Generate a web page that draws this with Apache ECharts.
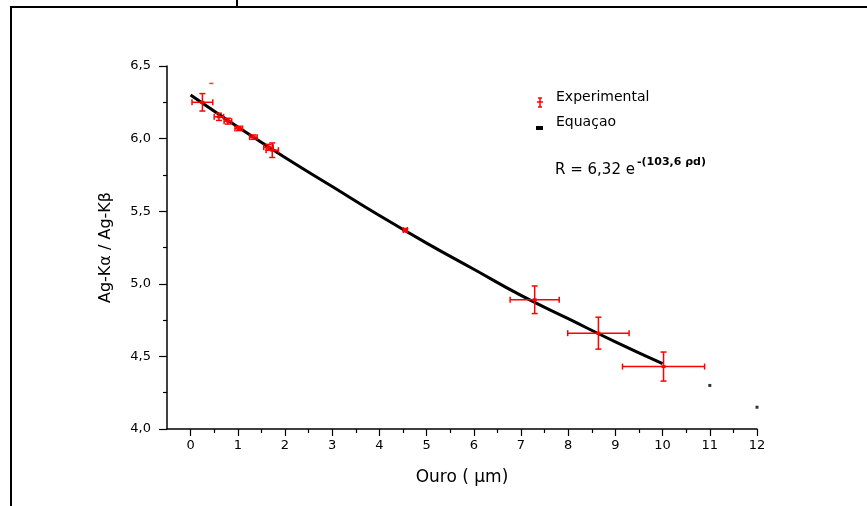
<!DOCTYPE html>
<html>
<head>
<meta charset="utf-8">
<script src="https://cdn.jsdelivr.net/npm/echarts@6/dist/echarts.min.js"></script>
<style>
    html, body { margin: 0; padding: 0; background: #fff; }
    #chart { width: 867px; height: 506px; }
</style>
</head>
<body>
<div id="chart"></div>
<script>
// pontos experimentais (Ouro em um, razao Ka/Kb) com barras de erro
const expX = [0.25, 0.60, 0.79, 1.02, 1.33, 1.65, 1.73, 4.55, 7.29, 8.64, 10.02];
const expY = [6.25, 6.15, 6.12, 6.07, 6.01, 5.94, 5.92, 5.37, 4.89, 4.66, 4.43];
const expXErr = [0.22, 0.10, 0.08, 0.08, 0.08, 0.10, 0.13, 0.04, 0.52, 0.65, 0.87];
const expYErr = [0.06, 0.025, 0.02, 0.015, 0.015, 0.02, 0.05, 0.01, 0.095, 0.11, 0.10];

// curva da equacao
const fitX = [0, 1, 2, 3, 4, 5, 6, 7, 8, 9, 10];
const fitY = [6.30, 6.08, 5.87, 5.67, 5.47, 5.28, 5.10, 4.92, 4.76, 4.60, 4.45];

// pontos soltos da equacao depois de 10
const dotX = [11, 12];
const dotY = [4.30, 4.15];

// traco vermelho solto perto do topo
const strayX = [0.44];
const strayY = [6.38];

const xTicks = [0, 1, 2, 3, 4, 5, 6, 7, 8, 9, 10, 11, 12];
const xMinorTicks = [0.5, 1.5, 2.5, 3.5, 4.5, 5.5, 6.5, 7.5, 8.5, 9.5, 10.5, 11.5];

const font = 'DejaVu Sans, Liberation Sans, Arial, sans-serif';

let chart = echarts.init(document.getElementById('chart'));

let expData = [];
for (let i = 0; i < expX.length; i++) {
    expData.push([expX[i], expY[i], expXErr[i], expYErr[i]]);
}

function renderErrorBar(params, api) {
    let x = api.value(0), y = api.value(1), dx = api.value(2), dy = api.value(3);
    let c = api.coord([x, y]);
    let l = api.coord([x - dx, y]);
    let r = api.coord([x + dx, y]);
    let t = api.coord([x, y + dy]);
    let b = api.coord([x, y - dy]);
    let cap = 3;
    let style = { stroke: '#ff0000', lineWidth: 1.5, fill: null };
    return {
        type: 'group',
        children: [
            { type: 'line', shape: { x1: l[0], y1: c[1], x2: r[0], y2: c[1] }, style: style },
            { type: 'line', shape: { x1: c[0], y1: t[1], x2: c[0], y2: b[1] }, style: style },
            { type: 'line', shape: { x1: l[0], y1: c[1] - cap, x2: l[0], y2: c[1] + cap }, style: style },
            { type: 'line', shape: { x1: r[0], y1: c[1] - cap, x2: r[0], y2: c[1] + cap }, style: style },
            { type: 'line', shape: { x1: c[0] - cap, y1: t[1], x2: c[0] + cap, y2: t[1] }, style: style },
            { type: 'line', shape: { x1: c[0] - cap, y1: b[1], x2: c[0] + cap, y2: b[1] }, style: style },
            { type: 'rect', shape: { x: c[0] - 2, y: c[1] - 1.5, width: 4, height: 3 }, style: { fill: '#ff0000' } }
        ]
    };
}

const redLine = { stroke: '#ff0000', lineWidth: 1.5 };

const option = {
    animation: false,
    backgroundColor: '#ffffff',
    textStyle: { fontFamily: font },
    grid: {
        left: 167,
        right: 110,
        top: 66,
        bottom: 77
    },
    xAxis: [{
        type: 'value',
        min: -0.5,
        max: 12,
        name: 'Ouro ( μm)',
        nameLocation: 'middle',
        nameGap: 40,
        nameTextStyle: { fontSize: 17, color: '#000', fontFamily: font },
        axisLine: { lineStyle: { color: '#000', width: 1.5 } },
        axisTick: { inside: false, length: 7, lineStyle: { color: '#000', width: 1.2 }, customValues: xTicks },
        axisLabel: { fontSize: 13, color: '#000', margin: 10, customValues: xTicks, fontFamily: font },
        splitLine: { show: false }
    }, {
        type: 'value',
        position: 'bottom',
        min: -0.5,
        max: 12,
        axisLine: { show: false },
        axisTick: { inside: false, length: 4, lineStyle: { color: '#000', width: 1.2 }, customValues: xMinorTicks },
        axisLabel: { show: false },
        splitLine: { show: false }
    }],
    yAxis: {
        type: 'value',
        min: 4,
        max: 6.5,
        interval: 0.5,
        name: 'Ag-Kα / Ag-Kβ',
        nameLocation: 'middle',
        nameGap: 53,
        nameTextStyle: { fontSize: 16, color: '#000', fontFamily: font },
        axisLine: { show: true, onZero: false, lineStyle: { color: '#000', width: 1.5 } },
        axisTick: { show: true, inside: false, length: 8, lineStyle: { color: '#000', width: 1.2 } },
        minorTick: { show: true, splitNumber: 2, length: 4, lineStyle: { color: '#000', width: 1.2 } },
        axisLabel: {
            fontSize: 13,
            color: '#000',
            margin: 16,
            fontFamily: font,
            formatter: function (v) { return v.toFixed(1).replace('.', ','); }
        },
        splitLine: { show: false }
    },
    series: [{
        name: 'Equaçao',
        type: 'line',
        smooth: true,
        symbol: 'none',
        data: fitX.map((x, i) => [x, fitY[i]]),
        lineStyle: { color: '#000', width: 3 },
        itemStyle: { color: '#000' },
        z: 2
    }, {
        name: 'Equaçao',
        type: 'scatter',
        symbol: 'rect',
        symbolSize: [3, 3],
        data: dotX.map((x, i) => [x, dotY[i]]),
        itemStyle: { color: '#000' },
        z: 2
    }, {
        name: 'Experimental',
        type: 'custom',
        renderItem: renderErrorBar,
        data: expData,
        encode: { x: 0, y: 1 },
        itemStyle: { color: '#ff0000' },
        z: 3
    }, {
        name: 'Experimental',
        type: 'scatter',
        symbol: 'rect',
        symbolSize: [4, 1.5],
        data: strayX.map((x, i) => [x, strayY[i]]),
        itemStyle: { color: '#ff0000' },
        z: 3
    }],
    graphic: [
        // moldura
        { type: 'line', shape: { x1: 11, y1: 7, x2: 867, y2: 7 }, style: { stroke: '#000', lineWidth: 2 } },
        { type: 'line', shape: { x1: 11, y1: 6, x2: 11, y2: 506 }, style: { stroke: '#000', lineWidth: 2 } },
        { type: 'line', shape: { x1: 237, y1: 0, x2: 237, y2: 6 }, style: { stroke: '#000', lineWidth: 2 } },
        // legenda
        { type: 'line', shape: { x1: 540, y1: 98, x2: 540, y2: 107 }, style: redLine },
        { type: 'line', shape: { x1: 537, y1: 102, x2: 543, y2: 102 }, style: redLine },
        { type: 'line', shape: { x1: 538, y1: 98, x2: 542, y2: 98 }, style: redLine },
        { type: 'line', shape: { x1: 538, y1: 107, x2: 542, y2: 107 }, style: redLine },
        {
            type: 'text', left: 556, top: 90,
            style: { text: 'Experimental', fontSize: 14, fontFamily: font, fill: '#000' }
        },
        { type: 'rect', shape: { x: 536, y: 126, width: 7, height: 4 }, style: { fill: '#000' } },
        {
            type: 'text', left: 556, top: 115,
            style: { text: 'Equaçao', fontSize: 14, fontFamily: font, fill: '#000' }
        },
        // equacao
        {
            type: 'text', left: 555, top: 163,
            style: { text: 'R = 6,32 e', fontSize: 15, fontFamily: font, fill: '#000' }
        },
        {
            type: 'text', left: 637, top: 157,
            style: { text: '-(103,6 ρd)', fontSize: 11, fontWeight: 'bold', fontFamily: font, fill: '#000' }
        }
    ]
};

chart.setOption(option);
</script>
</body>
</html>
